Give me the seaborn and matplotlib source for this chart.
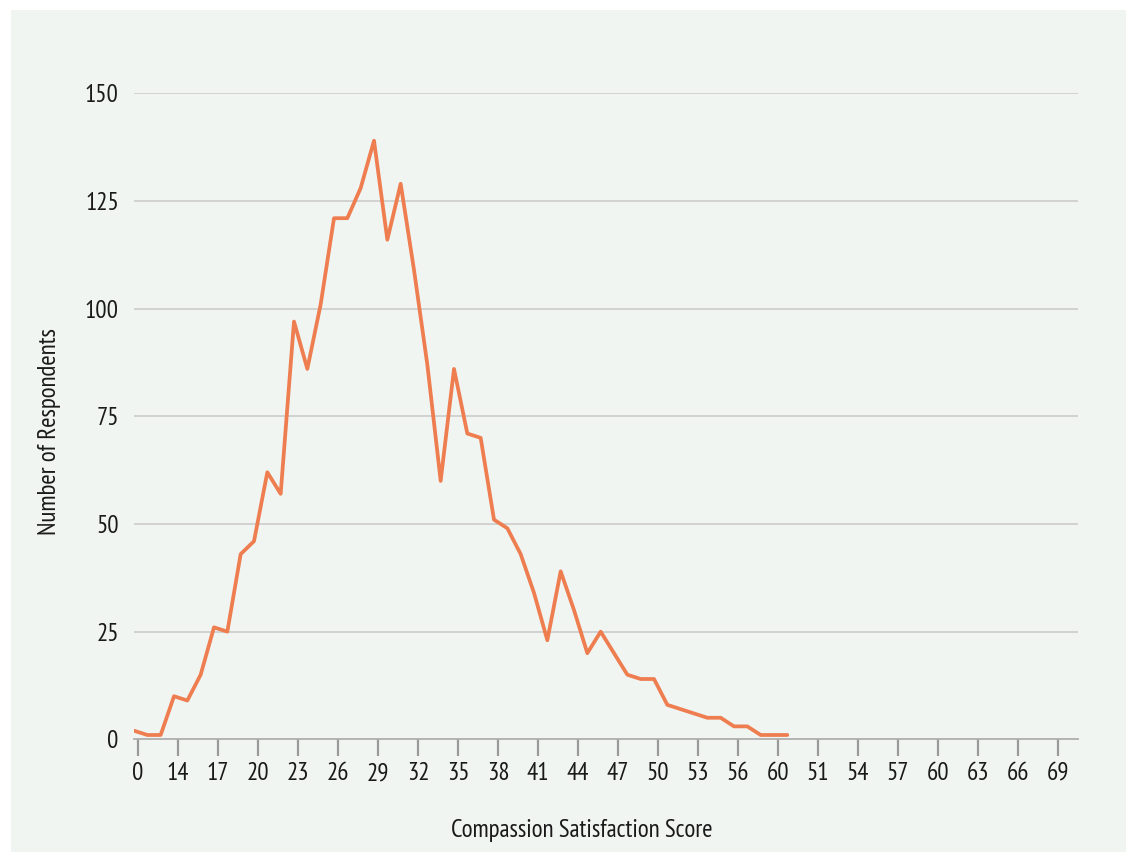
import numpy as np
import pandas as pd
import seaborn as sns
import matplotlib.pyplot as plt
from matplotlib import font_manager
from matplotlib.patches import Rectangle

# Respondent counts per score slot (consecutive category positions)
counts = [2, 1, 1, 10, 9, 15, 26, 25, 43, 46,
          62, 57, 97, 86, 101, 121, 121, 128, 139, 116,
          129, 109, 87, 60, 86, 71, 70, 51, 49, 43,
          34, 23, 39, 30, 20, 25, 20, 15, 14, 14,
          8, 7, 6, 5, 5, 3, 3, 1, 1, 1]

# Category labels shown on every third slot of the x axis
tick_labels = ["0", "14", "17", "20", "23", "26", "29", "32", "35", "38",
               "41", "44", "47", "50", "53", "56", "60", "51", "54", "57",
               "60", "63", "66", "69"]
y_ticks = [0, 25, 50, 75, 100, 125, 150]

TICK_STEP = 3
LINE_COLOR = "#ee7d50"
PANEL_COLOR = "#f1f5f2"
TEXT_COLOR = "#1a1a1a"

sns.set_theme(style="white")
available = {f.name for f in font_manager.fontManager.ttflist}
families = [f for f in ["PT Sans Narrow", "Fira Sans Condensed",
                        "IBM Plex Sans Condensed", "DejaVu Sans"] if f in available]
plt.rcParams["font.family"] = families

W, H = 1126, 852
fig = plt.figure(figsize=(W / 100, H / 100), dpi=100)
fig.patch.set_facecolor("white")
fig.patches.append(Rectangle((11 / W, 0), 1 - 11 / W, 1 - 10 / H,
                             transform=fig.transFigure, facecolor=PANEL_COLOR,
                             edgecolor="none", zorder=-1))

left, right = 134 / W, 1078 / W
bottom, top = 1 - 739.3 / H, 1 - 93.3 / H
ax = fig.add_axes([left, bottom, right - left, top - bottom])
ax.set_facecolor("none")

df = pd.DataFrame({"slot": np.arange(len(counts)), "respondents": counts})
sns.lineplot(data=df, x="slot", y="respondents", ax=ax, color=LINE_COLOR,
             linewidth=2.7, zorder=3)

ax.set_xlim(0, 70.8)
ax.set_ylim(0, 150)
ax.set_yticks(y_ticks)
ax.set_yticklabels([str(v) for v in y_ticks])
ax.set_xticks(np.arange(len(tick_labels)) * TICK_STEP + 0.3)
ax.set_xticklabels(tick_labels)

ax.grid(axis="y", color="#c8c8c8", linewidth=1.1)
ax.grid(axis="x", visible=False)
for side in ["top", "right", "left"]:
    ax.spines[side].set_visible(False)
ax.spines["bottom"].set_color("#b0b0b0")
ax.spines["bottom"].set_linewidth(1.3)

FS = 18
ax.tick_params(axis="x", bottom=True, length=12.5, width=1.6, color="#999999",
               pad=4, labelsize=FS, labelcolor=TEXT_COLOR)
ax.tick_params(axis="y", left=False, length=0, pad=11, labelsize=FS,
               labelcolor=TEXT_COLOR)
ax.set_xlabel("")
ax.set_ylabel("")

fig.text(582 / W, 1 - 830 / H, "Compassion Satisfaction Score", ha="center",
         va="center", fontsize=FS, color=TEXT_COLOR)
fig.text(50 / W, 1 - 432 / H, "Number of Respondents", ha="center",
         va="center", rotation=90, fontsize=FS, color=TEXT_COLOR)

fig.savefig("out.png", dpi=100, facecolor=fig.get_facecolor())
